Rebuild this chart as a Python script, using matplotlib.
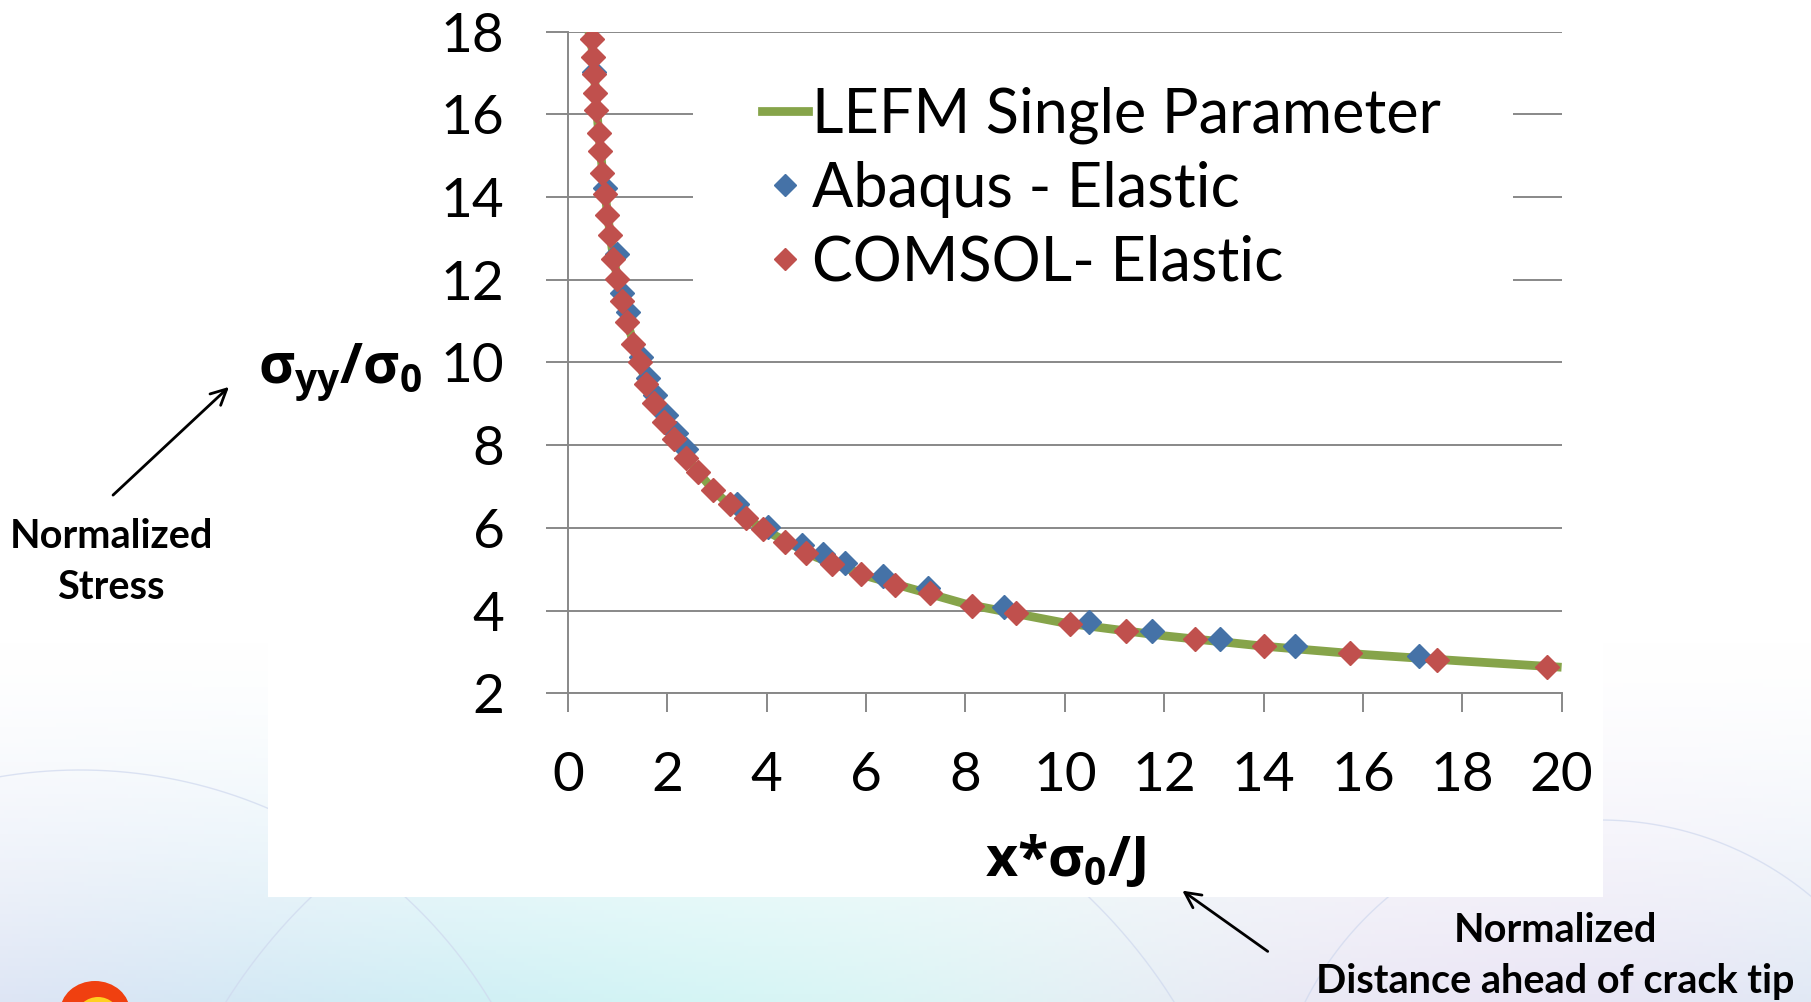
import matplotlib
matplotlib.use('Agg')
import matplotlib.pyplot as plt
import numpy as np
from matplotlib.lines import Line2D
from matplotlib.patches import Rectangle, Ellipse

# LEFM single parameter curve
lefm_x = [0.42, 0.5, 0.6, 0.7, 0.8, 0.9, 1.0, 1.2, 1.4, 1.6, 1.8, 2.0, 2.3, 2.6,
          3.0, 3.5, 4.0, 5.0, 6.0, 7.0, 8.0, 9.0, 10.0, 12.0, 14.0, 16.0, 18.0, 20.0]
lefm_y = [18.0, 17.5, 15.8, 14.55, 13.55, 12.65, 12.0, 10.95, 10.14, 9.42, 8.87, 8.42, 7.84, 7.37,
          6.82, 6.31, 5.92, 5.29, 4.84, 4.50, 4.16, 3.93, 3.70, 3.39, 3.14, 2.94, 2.78, 2.63]

# Abaqus - Elastic
abaqus_x = [0.52, 0.74, 0.99, 1.09, 1.21, 1.46, 1.61, 1.75, 1.97, 2.18, 2.38, 3.40,
            4.03, 4.72, 5.13, 5.57, 6.34, 7.25, 8.77, 10.49, 11.75, 13.13, 14.63, 17.13]
abaqus_y = [17.03, 14.21, 12.62, 11.69, 11.23, 10.14, 9.62, 9.21, 8.73, 8.29, 7.92, 6.59,
            6.01, 5.59, 5.37, 5.16, 4.84, 4.54, 4.08, 3.73, 3.51, 3.31, 3.14, 2.90]

# COMSOL- Elastic
comsol_x = [0.48, 0.50, 0.52, 0.55, 0.57, 0.625, 0.65, 0.69, 0.74, 0.79, 0.84, 0.91, 0.99,
            1.09, 1.19, 1.31, 1.44, 1.58, 1.73, 1.93, 2.13, 2.38, 2.62, 2.92, 3.26, 3.58,
            3.93, 4.36, 4.79, 5.32, 5.89, 6.58, 7.28, 8.14, 9.01, 10.11, 11.23, 12.62,
            14.0, 15.75, 17.5, 19.7]
comsol_y = [17.82, 17.38, 16.98, 16.52, 16.11, 15.56, 15.11, 14.58, 14.07, 13.56, 13.08, 12.50, 12.01,
            11.49, 10.99, 10.44, 10.0, 9.48, 9.03, 8.57, 8.14, 7.70, 7.34, 6.92, 6.58, 6.23,
            5.97, 5.67, 5.39, 5.13, 4.88, 4.62, 4.42, 4.12, 3.93, 3.68, 3.51, 3.31,
            3.14, 2.97, 2.81, 2.64]

x_ticks = list(range(0, 21, 2))
y_ticks = list(range(2, 19, 2))
labels = ['LEFM Single Parameter', 'Abaqus - Elastic', 'COMSOL- Elastic']

green = '#86A44A'
blue = '#4572A7'
red = '#C0504D'
grid_grey = '#888888'

plt.rcParams['mathtext.fontset'] = 'custom'
plt.rcParams['mathtext.rm'] = 'Open Sans:bold'
plt.rcParams['mathtext.it'] = 'Open Sans:bold'
plt.rcParams['mathtext.bf'] = 'Open Sans:bold'

W, H = 1811, 1002
fig = plt.figure(figsize=(W / 100, H / 100), dpi=100)

# slide background (pixel coordinates, origin top-left)
bg = fig.add_axes([0, 0, 1, 1], zorder=-10)
bg.set_xlim(0, W)
bg.set_ylim(H, 0)
bg.axis('off')
yy, xx = np.mgrid[0:H:4, 0:W:4]
t = np.clip((yy - 640) / 360.0, 0, 1) ** 1.5
tint = np.zeros(yy.shape + (3,))
tint[..., 0] = 1 - t * (0.13 + 0.05 * np.sin(xx / 300.0))
tint[..., 1] = 1 - t * (0.07 + 0.03 * np.cos(xx / 250.0))
tint[..., 2] = 1 - t * 0.04
bg.imshow(tint, extent=[0, W, H, 0], aspect='auto', zorder=0)
for cx, cy, r in [(700, 1300, 560), (1600, 1150, 330), (80, 1250, 480)]:
    a = np.linspace(0, 2 * np.pi, 300)
    bg.plot(cx + r * np.cos(a), cy + r * np.sin(a), color='#cfd8ee', lw=1, alpha=0.7, zorder=1)
bg.add_patch(Rectangle((268, 0), 1335, 897, facecolor='white', edgecolor='none', zorder=2))
bg.add_patch(Ellipse((95, 1012), 70, 62, facecolor='#f04010', edgecolor='none', zorder=3))
bg.add_patch(Ellipse((98, 1016), 42, 38, facecolor='#ffd020', edgecolor='none', zorder=3))

# chart
ax = fig.add_axes([568 / W, 1 - 693.3 / H, 993.6 / W, 661.6 / H])
ax.set_facecolor('none')
ax.plot(lefm_x, lefm_y, color=green, lw=6.3, solid_capstyle='butt', zorder=3)
ax.plot(abaqus_x, abaqus_y, ls='none', marker='D', ms=12, color=blue, mec=blue, zorder=4)
ax.plot(comsol_x, comsol_y, ls='none', marker='D', ms=12, color=red, mec=red, zorder=5)

ax.set_xlim(0, 20)
ax.set_ylim(2, 18)
ax.set_xticks(x_ticks)
ax.set_yticks(y_ticks)
ax.grid(axis='y', color=grid_grey, lw=1.4)
ax.set_axisbelow(True)
for s in ['top', 'right']:
    ax.spines[s].set_visible(False)
for s in ['left', 'bottom']:
    ax.spines[s].set_color(grid_grey)
    ax.spines[s].set_linewidth(1.4)
ax.tick_params(axis='y', direction='out', length=15.8, width=1.4, color=grid_grey, pad=30)
ax.tick_params(axis='x', direction='out', length=13.7, width=1.4, color=grid_grey, pad=28)
for lab in ax.get_xticklabels() + ax.get_yticklabels():
    lab.set_family('Lato')
    lab.set_fontsize(39.5)

ax.set_ylabel(r'$\sigma_{yy}/\sigma_0$', fontsize=40, rotation=0, ha='center', va='center')
ax.yaxis.set_label_coords(-0.2295, 0.4857)
ax.set_xlabel(r'x*$\sigma_0$/J', fontsize=40, fontweight='bold', family='Open Sans',
              ha='center', va='center')
ax.xaxis.set_label_coords(0.5, -0.252)

# white box behind the legend, hiding the gridlines there
ax.add_patch(Rectangle((693 / W, 1 - 330 / H), (1513 - 693) / W, (330 - 45) / H,
                       transform=fig.transFigure, facecolor='white', edgecolor='none',
                       zorder=1.5, clip_on=False))
handles = [Line2D([], [], color=green, lw=6.3),
           Line2D([], [], ls='none', marker='D', ms=11, color=blue),
           Line2D([], [], ls='none', marker='D', ms=11, color=red)]
leg = ax.legend(handles, labels, loc='upper left', bbox_to_anchor=(762 / W, 1 - 86 / H),
                bbox_transform=fig.transFigure, frameon=False,
                prop={'family': 'Lato', 'size': 44}, handlelength=0.75,
                handletextpad=0.07, labelspacing=0.28, borderpad=0, borderaxespad=0,
                numpoints=1)
leg.set_zorder(6)

# annotations
bg.text(111, 562, 'Normalized\nStress', fontsize=28.5, fontweight='bold', family='Lato',
        ha='center', va='center', linespacing=1.48, zorder=5)
bg.annotate('', xy=(231, 385), xytext=(111, 497),
            arrowprops=dict(arrowstyle='->', lw=2, color='black', mutation_scale=28), zorder=5)
bg.text(1555, 956, 'Normalized\nDistance ahead of crack tip', fontsize=28.5, fontweight='bold',
        family='Lato', ha='center', va='center', linespacing=1.48, zorder=5)
bg.annotate('', xy=(1180, 889), xytext=(1270, 953),
            arrowprops=dict(arrowstyle='->', lw=2, color='black', mutation_scale=28), zorder=5)

fig.savefig('out.png', dpi=100)
